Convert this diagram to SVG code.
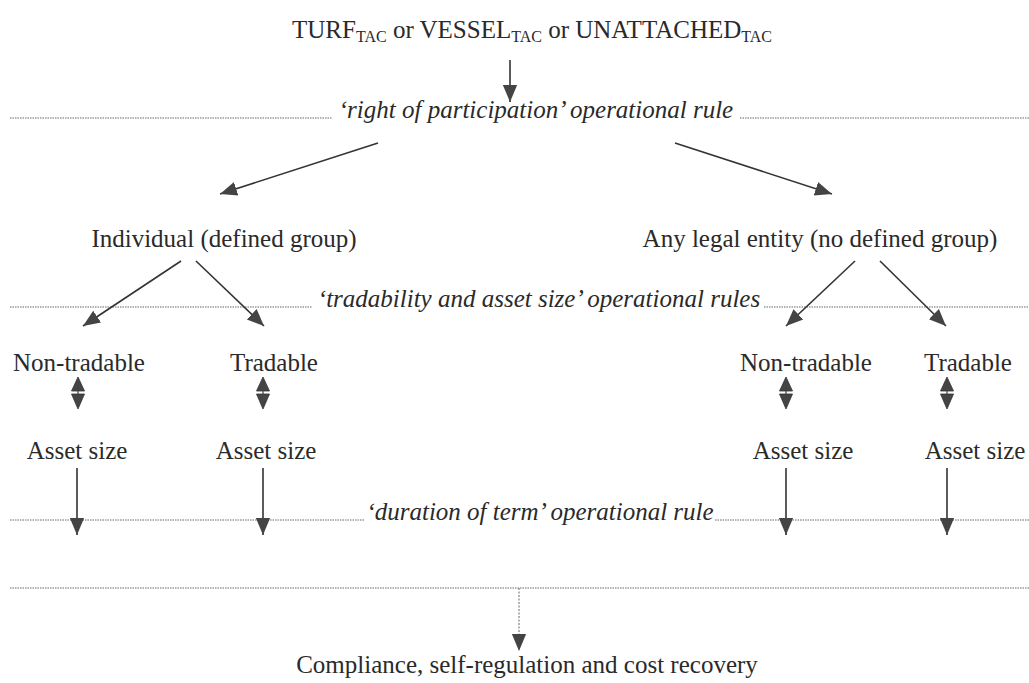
<svg xmlns="http://www.w3.org/2000/svg" width="1029" height="683" viewBox="0 0 1029 683">
<defs>
<style>
text{font-family:"Liberation Serif","Times New Roman",serif;fill:#2a2a2a;font-size:25px}
.it{font-style:italic}
.c{text-anchor:middle}
.sub{font-size:16px}
.dot{stroke:#666;stroke-width:1;stroke-dasharray:1.5 1;fill:none}
.ar{stroke:#333;stroke-width:1.6;fill:none;marker-end:url(#ah)}
.vd{stroke:#666;stroke-width:1;stroke-dasharray:2 1.5;fill:none;marker-end:url(#ah)}
.tri{fill:#444;stroke:#333;stroke-width:0.8}
</style>
<marker id="ah" viewBox="0 0 10 10" refX="10" refY="5" markerWidth="17" markerHeight="17" markerUnits="userSpaceOnUse" orient="auto">
<path d="M0,0.8 L10,5 L0,9.2 Z" fill="#444"/>
</marker>
</defs>
<rect width="1029" height="683" fill="#fff"/>
<g id="top"><text x="532" y="38" class="c" font-size="26">TURF<tspan class="sub" dy="4">TAC</tspan><tspan dy="-4"> or VESSEL</tspan><tspan class="sub" dy="4">TAC</tspan><tspan dy="-4"> or UNATTACHED</tspan><tspan class="sub" dy="4">TAC</tspan></text></g>
<g id="rules">
<line class="dot" x1="10" y1="118" x2="332" y2="118"/>
<text x="536" y="118" class="it c">‘right of participation’ operational rule</text>
<line class="dot" x1="740" y1="118" x2="1029" y2="118"/>
<line class="dot" x1="10" y1="307" x2="312" y2="307"/>
<text x="539" y="307" class="it c">‘tradability and asset size’ operational rules</text>
<line class="dot" x1="764" y1="307" x2="1029" y2="307"/>
<line class="dot" x1="10" y1="520" x2="365" y2="520"/>
<text x="540" y="520" class="it c">‘duration of term’ operational rule</text>
<line class="dot" x1="715" y1="520" x2="1029" y2="520"/>
<line class="dot" x1="10" y1="588" x2="1029" y2="588"/>
</g>
<g id="n-individual"><text x="224" y="247" class="c">Individual (defined group)</text></g>
<g id="n-any"><text x="820" y="247" class="c">Any legal entity (no defined group)</text></g>
<g id="n-nt1"><text x="79" y="371" class="c">Non-tradable</text></g>
<g id="n-t1"><text x="274" y="371" class="c">Tradable</text></g>
<g id="n-nt2"><text x="806" y="371" class="c">Non-tradable</text></g>
<g id="n-t2"><text x="968" y="371" class="c">Tradable</text></g>
<g id="n-as1"><text x="77" y="459" class="c">Asset size</text></g>
<g id="n-as2"><text x="266" y="459" class="c">Asset size</text></g>
<g id="n-as3"><text x="803" y="459" class="c">Asset size</text></g>
<g id="n-as4"><text x="975" y="459" class="c">Asset size</text></g>
<g id="n-compliance"><text x="527" y="673" class="c">Compliance, self-regulation and cost recovery</text></g>
<g id="connectors">
<line class="ar" x1="510" y1="60" x2="510" y2="102"/>
<line class="ar" x1="378" y1="143" x2="220" y2="194"/>
<line class="ar" x1="675" y1="143" x2="832" y2="194"/>
<line class="ar" x1="181" y1="261" x2="83" y2="326"/>
<line class="ar" x1="196" y1="261" x2="264" y2="326"/>
<line class="ar" x1="855" y1="261" x2="786" y2="326"/>
<line class="ar" x1="880" y1="261" x2="946" y2="326"/>
<g id="dbl">
<g transform="translate(78,0)"><path class="tri" d="M-6.5,391 L0,377 L6.5,391 Z"/><line x1="0" y1="391" x2="0" y2="394" stroke="#444" stroke-width="1.2"/><path class="tri" d="M-6.5,394 L6.5,394 L0,409 Z"/></g>
<g transform="translate(263,0)"><path class="tri" d="M-6.5,391 L0,377 L6.5,391 Z"/><line x1="0" y1="391" x2="0" y2="394" stroke="#444" stroke-width="1.2"/><path class="tri" d="M-6.5,394 L6.5,394 L0,409 Z"/></g>
<g transform="translate(786,0)"><path class="tri" d="M-6.5,391 L0,377 L6.5,391 Z"/><line x1="0" y1="391" x2="0" y2="394" stroke="#444" stroke-width="1.2"/><path class="tri" d="M-6.5,394 L6.5,394 L0,409 Z"/></g>
<g transform="translate(947,0)"><path class="tri" d="M-6.5,391 L0,377 L6.5,391 Z"/><line x1="0" y1="391" x2="0" y2="394" stroke="#444" stroke-width="1.2"/><path class="tri" d="M-6.5,394 L6.5,394 L0,409 Z"/></g>
</g>
<line class="ar" x1="77" y1="468" x2="77" y2="535"/>
<line class="ar" x1="263" y1="468" x2="263" y2="535"/>
<line class="ar" x1="786" y1="468" x2="786" y2="535"/>
<line class="ar" x1="947" y1="468" x2="947" y2="535"/>
<line class="vd" x1="519" y1="588" x2="519" y2="651"/>
</g>
</svg>
